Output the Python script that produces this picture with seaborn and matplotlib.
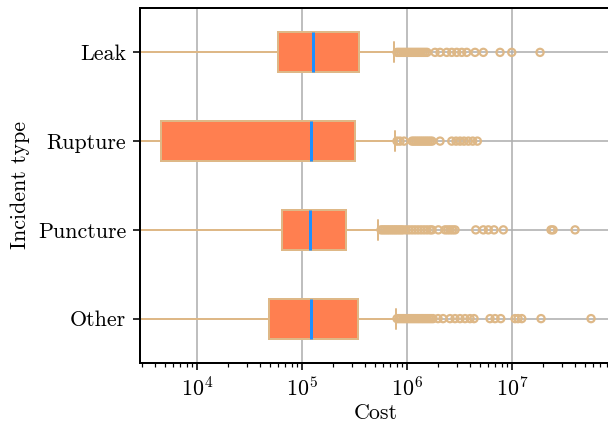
import numpy as np
import pandas as pd
import matplotlib
matplotlib.use("Agg")
import matplotlib.pyplot as plt
import seaborn as sns

# ---- data ----
categories = ["Leak", "Rupture", "Puncture", "Other"]
q1 = [59800, 4570, 64900, 48500]
median = [129000, 123000, 120000, 123000]
q3 = [349000, 320000, 264000, 346000]
whisker_low = [100, 100, 100, 100]          # below the visible axis range
whisker_high = [757000, 776000, 537000, 785000]

leak_outliers = [808000, 845000, 882000, 922000, 963000, 1.007e6, 1.052e6, 1.099e6,
                 1.148e6, 1.200e6, 1.254e6, 1.310e6, 1.369e6, 1.430e6, 1.494e6, 1.561e6,
                 1.860e6, 2.076e6, 2.404e6, 2.683e6, 2.994e6, 3.341e6, 3.728e6, 4.472e6,
                 5.364e6, 7.738e6, 1.000e7, 1.860e7]
rupture_outliers = [808000, 863000, 943000, 1.124e6, 1.174e6, 1.226e6, 1.282e6, 1.339e6,
                    1.399e6, 1.462e6, 1.527e6, 1.595e6, 1.667e6, 1.742e6, 2.076e6, 2.683e6,
                    2.948e6, 3.218e6, 3.513e6, 3.862e6, 4.252e6, 4.703e6]
puncture_outliers = [569000, 595000, 621000, 649000, 678000, 709000, 741000, 774000,
                     808000, 845000, 882000, 922000, 985000, 1.052e6, 1.124e6, 1.200e6,
                     1.282e6, 1.369e6, 1.462e6, 1.561e6, 1.667e6, 1.742e6, 2.000e6, 2.317e6,
                     2.447e6, 2.585e6, 2.731e6, 2.884e6, 4.541e6, 5.364e6, 5.986e6, 6.784e6,
                     8.318e6, 2.367e7, 2.474e7, 4.009e7]
other_outliers = [808000, 845000, 882000, 922000, 963000, 1.007e6, 1.052e6, 1.099e6,
                  1.148e6, 1.200e6, 1.254e6, 1.310e6, 1.369e6, 1.430e6, 1.494e6, 1.561e6,
                  1.631e6, 1.704e6, 1.780e6, 1.987e6, 2.217e6, 2.585e6, 2.884e6, 3.218e6,
                  3.591e6, 4.009e6, 4.375e6, 6.212e6, 6.934e6, 7.859e6, 1.075e7, 1.148e7,
                  1.245e7, 1.901e7, 5.690e7]
outliers = [leak_outliers, rupture_outliers, puncture_outliers, other_outliers]

x_label = "Cost"
y_label = "Incident type"

# ---- style ----
sns.set_style("ticks")
plt.rcParams.update({
    "font.family": "serif",
    "font.serif": ["cmr10", "DejaVu Serif"],
    "mathtext.fontset": "cm",
    "axes.formatter.use_mathtext": True,
    "axes.unicode_minus": False,
    "font.size": 11,
    "axes.linewidth": 1.0,
    "axes.edgecolor": "black",
    "xtick.color": "black",
    "ytick.color": "black",
    "text.color": "black",
    "axes.labelcolor": "black",
    "xtick.direction": "out",
    "ytick.direction": "out",
})

box_face = "coral"
box_edge = "burlywood"
median_col = "dodgerblue"

fig = plt.figure(figsize=(608 / 144, 425 / 144), dpi=144)
ax = fig.add_axes([0.2303, 0.1459, 0.7762, 0.8353])

stats = []
for i, c in enumerate(categories):
    stats.append(dict(label=c, q1=q1[i], med=median[i], q3=q3[i],
                      whislo=whisker_low[i], whishi=whisker_high[i], fliers=[]))

positions = list(range(len(categories)))
ax.bxp(stats, positions=positions, widths=0.45, capwidths=0.225,
       orientation="horizontal", patch_artist=True, showfliers=False,
       boxprops=dict(facecolor=box_face, edgecolor=box_edge, linewidth=1.0),
       whiskerprops=dict(color=box_edge, linewidth=1.0),
       capprops=dict(color=box_edge, linewidth=1.0),
       medianprops=dict(color=median_col, linewidth=1.5))

out_df = pd.DataFrame({
    "Cost": [v for lst in outliers for v in lst],
    "pos": [i for i, lst in enumerate(outliers) for _ in lst],
})
sns.scatterplot(data=out_df, x="Cost", y="pos", ax=ax, marker="o",
                facecolor="none", edgecolor=box_edge, linewidth=1.1, s=13,
                zorder=3, legend=False)

ax.set_xscale("log")
ax.set_xlim(2886, 9e7)
ax.set_ylim(3.5, -0.5)
ax.set_yticks(positions)
ax.set_yticklabels(categories)
ax.set_xlabel(x_label, labelpad=1.5)
ax.set_ylabel(y_label)
ax.tick_params(axis="x", which="major", pad=3)
ax.grid(True, which="major", color="#b0b0b0", linewidth=0.8)
ax.set_axisbelow(True)
for s in ["top", "left", "bottom", "right"]:
    ax.spines[s].set_visible(True)

fig.savefig("out.png", dpi=144)
